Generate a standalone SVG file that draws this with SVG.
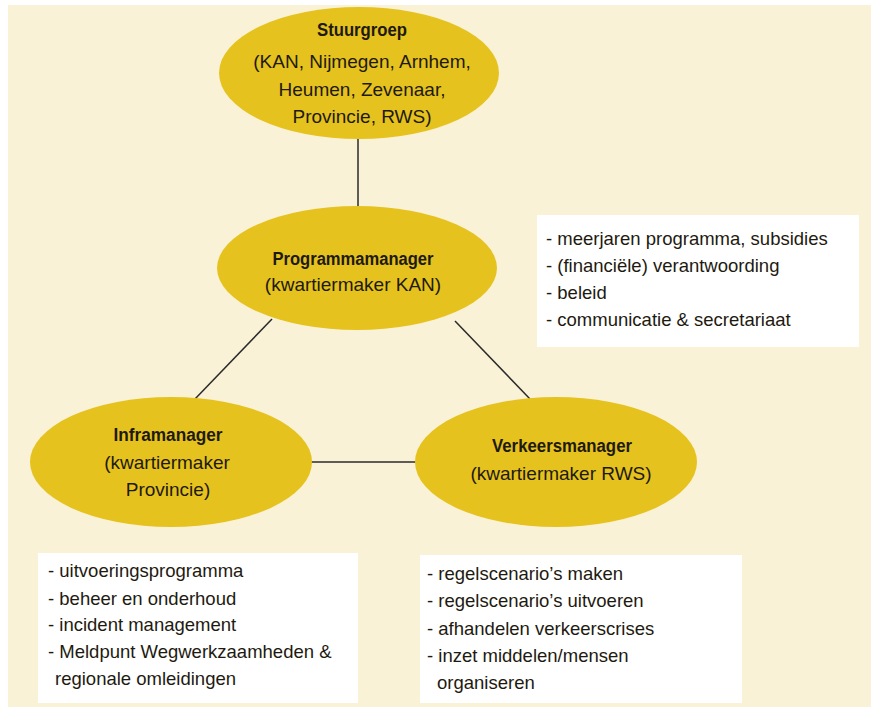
<svg xmlns="http://www.w3.org/2000/svg" width="871" height="707" viewBox="0 0 871 707">
<style>
.node ellipse{fill:#E6C21E;}
.t{font-family:"Liberation Sans",Arial,sans-serif;font-size:19px;fill:#1e1a10;text-anchor:middle;}
.b{font-family:"Liberation Sans",Arial,sans-serif;font-size:18px;font-weight:bold;fill:#1e1a10;text-anchor:middle;}
.box rect{fill:#FFFFFF;}
.l{font-family:"Liberation Sans",Arial,sans-serif;font-size:18.5px;fill:#1e1a10;}
#connectors line{stroke:#2a2a2a;stroke-width:1.5;}
</style>
<rect x="0" y="0" width="871" height="707" fill="#FFFFFF"/>
<rect x="8" y="5" width="863" height="702" fill="#FAF2D6"/>
<g id="connectors">
<line x1="358" y1="138" x2="358" y2="207"/>
<line x1="272" y1="319" x2="195" y2="399"/>
<line x1="455" y1="321" x2="530" y2="399"/>
<line x1="311" y1="462" x2="416" y2="462"/>
</g>
<g id="stuurgroep" class="node">
<ellipse cx="359" cy="73" rx="140" ry="66"/>
<text class="b" x="362" y="36" textLength="90" lengthAdjust="spacingAndGlyphs">Stuurgroep</text>
<text class="t" x="362" y="68">(KAN, Nijmegen, Arnhem,</text>
<text class="t" x="362" y="96">Heumen, Zevenaar,</text>
<text class="t" x="362" y="123">Provincie, RWS)</text>
</g>
<g id="programmamanager" class="node">
<ellipse cx="357" cy="268" rx="140" ry="62"/>
<text class="b" x="353" y="265" textLength="161" lengthAdjust="spacingAndGlyphs">Programmamanager</text>
<text class="t" x="353" y="291">(kwartiermaker KAN)</text>
</g>
<g id="inframanager" class="node">
<ellipse cx="171" cy="462" rx="141" ry="65"/>
<text class="b" x="168" y="441" textLength="109" lengthAdjust="spacingAndGlyphs">Inframanager</text>
<text class="t" x="167" y="469">(kwartiermaker</text>
<text class="t" x="168" y="496">Provincie)</text>
</g>
<g id="verkeersmanager" class="node">
<ellipse cx="556" cy="462" rx="141" ry="65"/>
<text class="b" x="562" y="452" textLength="140" lengthAdjust="spacingAndGlyphs">Verkeersmanager</text>
<text class="t" x="561" y="480">(kwartiermaker RWS)</text>
</g>
<g id="box-programma" class="box">
<rect x="537" y="215" width="322" height="132"/>
<text class="l" x="546" y="245">- meerjaren programma, subsidies</text>
<text class="l" x="546" y="272">- (financiële) verantwoording</text>
<text class="l" x="546" y="299">- beleid</text>
<text class="l" x="546" y="326">- communicatie &amp; secretariaat</text>
</g>
<g id="box-infra" class="box">
<rect x="38" y="553" width="320" height="150"/>
<text class="l" x="48" y="577">- uitvoeringsprogramma</text>
<text class="l" x="48" y="605">- beheer en onderhoud</text>
<text class="l" x="48" y="631">- incident management</text>
<text class="l" x="48" y="658">- Meldpunt Wegwerkzaamheden &amp;</text>
<text class="l" x="55" y="685">regionale omleidingen</text>
</g>
<g id="box-verkeer" class="box">
<rect x="420" y="555" width="322" height="148"/>
<text class="l" x="427" y="580">- regelscenario’s maken</text>
<text class="l" x="427" y="607">- regelscenario’s uitvoeren</text>
<text class="l" x="427" y="635">- afhandelen verkeerscrises</text>
<text class="l" x="427" y="662">- inzet middelen/mensen</text>
<text class="l" x="437" y="689">organiseren</text>
</g>
</svg>
